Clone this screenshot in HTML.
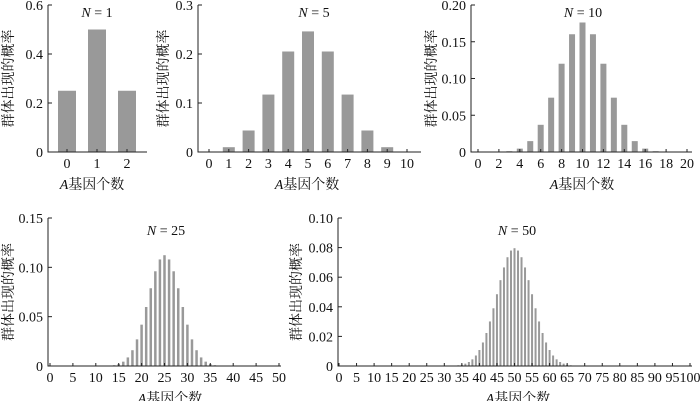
<!DOCTYPE html>
<html><head><meta charset="utf-8"><style>
body{margin:0;background:#fff}
svg{display:block;font-family:"Liberation Serif","Noto Serif CJK SC",serif}
svg text{font-family:"Liberation Serif","Noto Serif CJK SC",serif;fill:#111;font-size:14px}
</style></head><body>
<svg id="fig" width="700" height="401" viewBox="0 0 700 401" xmlns="http://www.w3.org/2000/svg" font-family="Liberation Serif, Noto Serif CJK SC, serif"></svg>
<script>
const cats1=[0,1,2];
const vals1=[0.25,0.5,0.25];
const yTicks1=[0,0.2,0.4,0.6];
const yLabels1=["0","0.2","0.4","0.6"];
const xTicks1=[0,1,2];

const cats2=[0,1,2,3,4,5,6,7,8,9,10];
const vals2=[0.001,0.0098,0.0439,0.1172,0.2051,0.2461,0.2051,0.1172,0.0439,0.0098,0.001];
const yTicks2=[0,0.1,0.2,0.3];
const yLabels2=["0","0.1","0.2","0.3"];
const xTicks2=[0,1,2,3,4,5,6,7,8,9,10];

const cats3=[0,1,2,3,4,5,6,7,8,9,10,11,12,13,14,15,16,17,18,19,20];
const vals3=[0.0005,0,0.0005,0.0011,0.0046,0.0148,0.037,0.0739,0.1201,0.1602,0.1762,0.1602,0.1201,0.0739,0.037,0.0148,0.0046,0.0011,0.0002,0,0];
const yTicks3=[0,0.05,0.1,0.15,0.2];
const yLabels3=["0","0.05","0.10","0.15","0.20"];
const xTicks3=[0,2,4,6,8,10,12,14,16,18,20];

const cats4=[13,14,15,16,17,18,19,20,21,22,23,24,25,26,27,28,29,30,31,32,33,34,35,36,37];
const vals4=[0.0003,0.0008,0.002,0.0044,0.0087,0.016,0.027,0.0419,0.0598,0.0788,0.096,0.108,0.1123,0.108,0.096,0.0788,0.0598,0.0419,0.027,0.016,0.0087,0.0044,0.002,0.0008,0.0003];
const yTicks4=[0,0.05,0.1,0.15];
const yLabels4=["0","0.05","0.10","0.15"];
const xTicks4=[0,5,10,15,20,25,30,35,40,45,50];

const cats5=[34,35,36,37,38,39,40,41,42,43,44,45,46,47,48,49,50,51,52,53,54,55,56,57,58,59,60,61,62,63,64,65,66];
const vals5=[0.0005,0.0009,0.0016,0.0027,0.0045,0.0071,0.0108,0.0159,0.0223,0.0301,0.039,0.0485,0.058,0.0666,0.0735,0.078,0.0796,0.078,0.0735,0.0666,0.058,0.0485,0.039,0.0301,0.0223,0.0159,0.0108,0.0071,0.0045,0.0027,0.0016,0.0009,0.0005];
const yTicks5=[0,0.02,0.04,0.06,0.08,0.1];
const yLabels5=["0","0.02","0.04","0.06","0.08","0.10"];
const xTicks5=[0,5,10,15,20,25,30,35,40,45,50,55,60,65,70,75,80,85,90,95,100];

const NS="http://www.w3.org/2000/svg";
const FF='"Liberation Serif","Noto Serif CJK SC",serif';
const svg=document.getElementById('fig');
function mk(tag,attrs,parent){const e=document.createElementNS(NS,tag);for(const k in attrs)e.setAttribute(k,attrs[k]);if(tag==='text'){e.style.fontFamily=FF;}(parent||svg).appendChild(e);return e;}

function panel(cfg,cats,vals,yT,yL,xT){
  const g=mk('g',{});
  
  
  const xs=v=>cfg.x0+(v-cfg.xmin)*cfg.unit;
  const ys=v=>cfg.yb-(v/cfg.ymax)*(cfg.yb-cfg.yt);
  cats.forEach((c,i)=>{
    const h=cfg.yb-ys(vals[i]);
    const r=mk('rect',{x:xs(c)-cfg.bw/2,y:ys(vals[i]),width:cfg.bw,height:h,fill:'#999'},g);
    
    
  });
  const ax=mk('path',{d:`M${cfg.ax},${cfg.yt}V${cfg.yb}H${cfg.xend}`,stroke:'#222','stroke-width':1,fill:'none'},g);
  
  
  yT.forEach((t,i)=>{
    const y=ys(t);
    mk('line',{x1:cfg.ax,x2:cfg.ax+4,y1:y,y2:y,stroke:'#222'},g);
    const tx=mk('text',{x:cfg.ax-5,y:y+5,'text-anchor':'end'},g);
    tx.textContent=yL[i];
    
    
  });
  xT.forEach(t=>{
    const x=xs(t);
    mk('line',{x1:x,x2:x,y1:cfg.yb,y2:cfg.yb-3,stroke:'#222'},g);
    const tx=mk('text',{x:x,y:cfg.yb+16,'text-anchor':'middle'},g);
    tx.textContent=String(t);
    
    
  });
  const tt=mk('text',{x:cfg.tx,y:cfg.ty,'text-anchor':'middle'},g);
  tt.innerHTML='<tspan font-style="italic">N</tspan> = '+cfg.N;
  
  
  const xl=mk('text',{x:cfg.xlx,y:cfg.yb+37,'text-anchor':'middle'},g);
  xl.innerHTML='<tspan font-style="italic">A</tspan>基因个数';
  
  
  const yl=mk('text',{x:0,y:0,'text-anchor':'middle',transform:`translate(${cfg.ylx},${(cfg.yt+cfg.yb)/2}) rotate(-90)`},g);
  yl.textContent='群体出现的概率';
  
  
}

panel({name:'panel-n1',x0:67,xmin:0,unit:30,bw:18,ax:48,xend:147,yt:5,yb:152,ymax:0.6,tx:97,ty:17,N:1,xlx:92,ylx:13},cats1,vals1,yTicks1,yLabels1,xTicks1);
panel({name:'panel-n5',x0:209,xmin:0,unit:19.8,bw:12,ax:198,xend:421,yt:5,yb:152,ymax:0.3,tx:314,ty:17,N:5,xlx:307,ylx:168},cats2,vals2,yTicks2,yLabels2,xTicks2);
panel({name:'panel-n10',x0:478,xmin:0,unit:10.45,bw:6,ax:471,xend:692,yt:5,yb:152,ymax:0.2,tx:583,ty:17,N:10,xlx:582,ylx:436},cats3,vals3,yTicks3,yLabels3,xTicks3);
panel({name:'panel-n25',x0:50,xmin:0,unit:4.58,bw:2.5,ax:48,xend:281,yt:218,yb:366,ymax:0.15,tx:166,ty:235,N:25,xlx:170,ylx:13},cats4,vals4,yTicks4,yLabels4,xTicks4);
panel({name:'panel-n50',x0:339,xmin:0,unit:3.51,bw:2,ax:338,xend:692,yt:218,yb:366,ymax:0.1,tx:517,ty:235,N:50,xlx:518,ylx:301},cats5,vals5,yTicks5,yLabels5,xTicks5);
</script>
</body></html>
